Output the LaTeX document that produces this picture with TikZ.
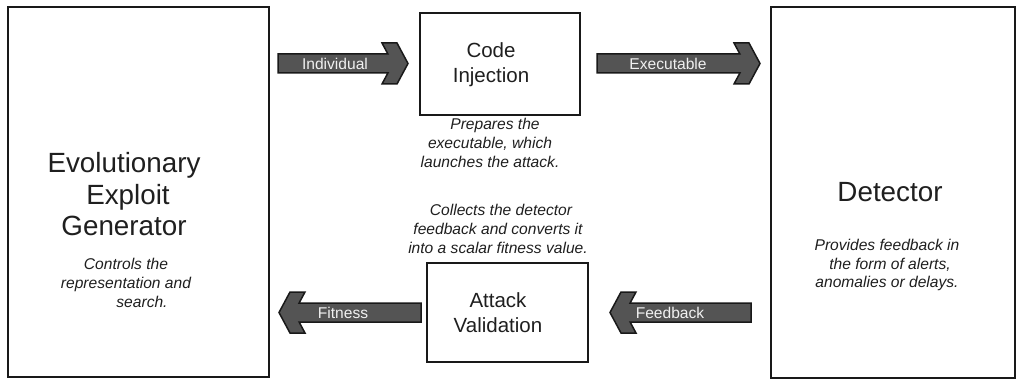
\documentclass[tikz,border=0pt]{standalone}
\usepackage{fontspec}
\setmainfont{Liberation Sans}

% block arrows: tail x, tip x, centre y
\newcommand{\rightblockarrow}[3]{%
  \draw[arrowbody] ({#1},{#3-9.5}) -- ({#2-20.1},{#3-9.5}) -- ({#2-26},{#3-20.5})
    -- ({#2-11},{#3-20.5}) -- ({#2},{#3}) -- ({#2-11},{#3+20.5}) -- ({#2-26},{#3+20.5})
    -- ({#2-20.1},{#3+9.5}) -- ({#1},{#3+9.5}) -- cycle;}
\newcommand{\leftblockarrow}[3]{%
  \draw[arrowbody] ({#1},{#3-9.5}) -- ({#2+20.1},{#3-9.5}) -- ({#2+26},{#3-20.5})
    -- ({#2+11},{#3-20.5}) -- ({#2},{#3}) -- ({#2+11},{#3+20.5}) -- ({#2+26},{#3+20.5})
    -- ({#2+20.1},{#3+9.5}) -- ({#1},{#3+9.5}) -- cycle;}

\begin{document}
\begin{tikzpicture}[x=1pt,y=-1pt,
  box/.style={draw=black!90, line width=1.8pt, fill=white, inner sep=0pt},
  title/.style={text=black!88, align=center, font=\fontsize{27.8}{31.5}\selectfont},
  subtitle/.style={text=black!88, align=center, font=\fontsize{20.5}{25}\selectfont},
  note/.style={text=black!88, align=center, font=\fontsize{15.6}{18.6}\selectfont\itshape},
  arrowbody/.style={draw=black!90, line width=1.5pt, fill=black!67, line join=miter},
  arrowlabel/.style={text=white!94!black, font=\fontsize{15.6}{18}\selectfont}]

\useasboundingbox (0,0) rectangle (1017,382);

% main blocks
\node[box, minimum width=261pt, minimum height=370pt] (eeg) at (138.5,192) {};
\node[box, minimum width=244pt, minimum height=371pt] (det) at (893,192.5) {};
\node[box, minimum width=160pt, minimum height=102pt] (inj) at (500,64) {};
\node[box, minimum width=161pt, minimum height=99pt] (val) at (507.5,312.5) {};

% block texts
\node[title] (eegtitle) at (124,194.5) {Evolutionary\\\hspace*{8pt}Exploit\\Generator};
\node[note] (eegnote) at (126,283) {Controls the\\representation and\\\hspace*{32pt}search.};
\node[title] (dettitle) at (890,192) {Detector};
\node[note] (detnote) at (887,265) {Provides feedback in\\\hspace*{6pt}the form of alerts,\\anomalies or delays.};
\node[subtitle] (injtitle) at (491,64.5) {Code\\Injection};
\node[note] (injnote) at (490,143) {\hspace*{10pt}Prepares the\\executable, which\\launches the attack.};
\node[subtitle] (valtitle) at (498,312.5) {Attack\\Validation};
\node[note] (valnote) at (498,229) {\hspace*{6pt}Collects the detector\\feedback and converts it\\into a scalar fitness value.};

% flow arrows
\rightblockarrow{278}{408}{63.5}
\rightblockarrow{597}{760}{63.5}
\leftblockarrow{421}{279}{312.5}
\leftblockarrow{751}{610}{312.5}

\node[arrowlabel] (indlabel) at (335,63.5) {Individual};
\node[arrowlabel] (exelabel) at (668,63.5) {Executable};
\node[arrowlabel] (fitlabel) at (343,312.5) {Fitness};
\node[arrowlabel] (fbklabel) at (670,312.5) {Feedback};
\end{tikzpicture}
\end{document}
